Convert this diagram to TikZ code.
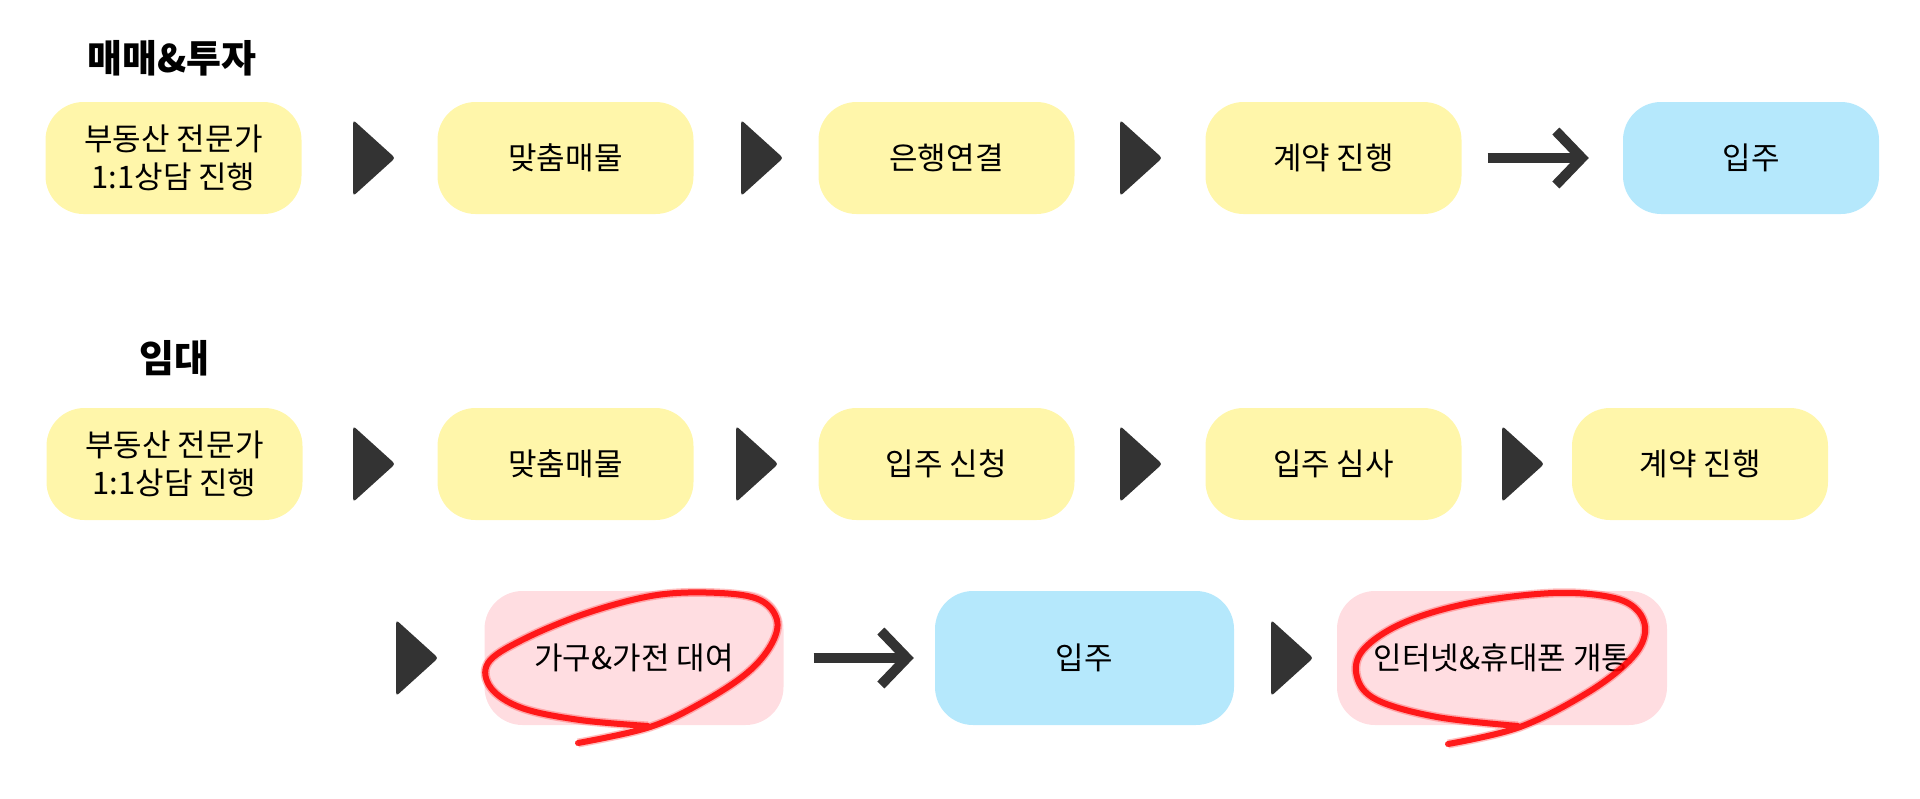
\documentclass[tikz,border=0pt]{standalone}
\usepackage{fontspec}
\usepackage{tikz}
\usetikzlibrary{shapes.geometric,arrows.meta}
\newfontfamily\kr{Noto Sans CJK KR}
\definecolor{boxyellow}{HTML}{FFF6AA}
\definecolor{boxblue}{HTML}{B5E8FC}
\definecolor{boxpink}{HTML}{FFDDE1}
\definecolor{tridark}{HTML}{333333}
\definecolor{penred}{HTML}{FF0000}

\begin{document}
\begin{tikzpicture}[x=1pt,y=-1pt,
    card/.style={rounded corners=38pt, minimum width=256pt, minimum height=112pt,
        inner sep=0pt, align=center, font=\kr\fontsize{31}{38}\selectfont},
    wide/.style={card, minimum width=299pt, minimum height=134pt},
    yel/.style={fill=boxyellow},
    blu/.style={fill=boxblue},
    pnk/.style={fill=boxpink},
    tri/.style={isosceles triangle, isosceles triangle stretches, anchor=west,
        minimum width=76pt, minimum height=42pt, inner sep=0pt,
        fill=tridark, rounded corners=3pt},
    flow/.style={draw=tridark, line width=10pt,
        -{Straight Barb[length=26pt,width=54pt,line cap=butt,line join=miter]}},
    scribble/.style={draw=penred, line width=6pt, line cap=round, line join=round, opacity=0.85,
        preaction={draw=penred, line width=9pt, opacity=0.25}},
    heading/.style={font=\kr\bfseries\fontsize{38}{46}\selectfont}
]
    \useasboundingbox (0,0) rectangle (1920,798);

    % sale & investment
    \node[heading] (buy) at (172,58) {매매\&투자};
    \node[card,yel] (b11) at (173.5,158) {부동산 전문가\\1:1상담 진행};
    \node[card,yel] (b12) at (565.5,158) {맞춤매물};
    \node[card,yel] (b13) at (946.5,158) {은행연결};
    \node[card,yel] (b14) at (1333.5,158) {계약 진행};
    \node[card,blu] (b15) at (1751,158) {입주};
    \node[tri] (s11) at (353,158) {};
    \node[tri] (s12) at (741,158) {};
    \node[tri] (s13) at (1120,158) {};
    \draw[flow, shorten <=26pt, shorten >=34pt] (b14.east) -- (b15.west);

    % rent
    \node[heading] (rent) at (174.5,358) {임대};
    \node[card,yel] (b21) at (174.5,464) {부동산 전문가\\1:1상담 진행};
    \node[card,yel] (b22) at (565.5,464) {맞춤매물};
    \node[card,yel] (b23) at (946.5,464) {입주 신청};
    \node[card,yel] (b24) at (1333.5,464) {입주 심사};
    \node[card,yel] (b25) at (1700,464) {계약 진행};
    \node[tri] (s21) at (353,464) {};
    \node[tri] (s22) at (736,464) {};
    \node[tri] (s23) at (1120,464) {};
    \node[tri] (s24) at (1502,464) {};

    \node[tri] (s31) at (396,658) {};
    \node[wide,pnk] (b31) at (634,658) {가구\&가전 대여};
    \node[wide,blu] (b32) at (1084.5,658) {입주};
    \node[tri] (s32) at (1271,658) {};
    \node[wide,pnk,minimum width=330pt] (b33) at (1502,658) {인터넷\&휴대폰 개통};
    \draw[flow, shorten <=30pt, shorten >=21pt] (b31.east) -- (b32.west);

    % red pen marks
    \draw[scribble] plot[smooth, tension=0.6] coordinates {(578,743) (650,727) (703,702)
        (747,673) (771,645) (777,620) (760,600) (720,593) (657,595) (587,613) (522,640)
        (488,663) (491,688) (522,708) (580,720) (648,726)};
    \draw[scribble] plot[smooth, tension=0.6] coordinates {(1448,744) (1520,727) (1587,693)
        (1630,660) (1645,633) (1637,610) (1610,597) (1553,593) (1470,603) (1403,623)
        (1363,650) (1357,677) (1377,700) (1437,717) (1518,726)};
\end{tikzpicture}
\end{document}
